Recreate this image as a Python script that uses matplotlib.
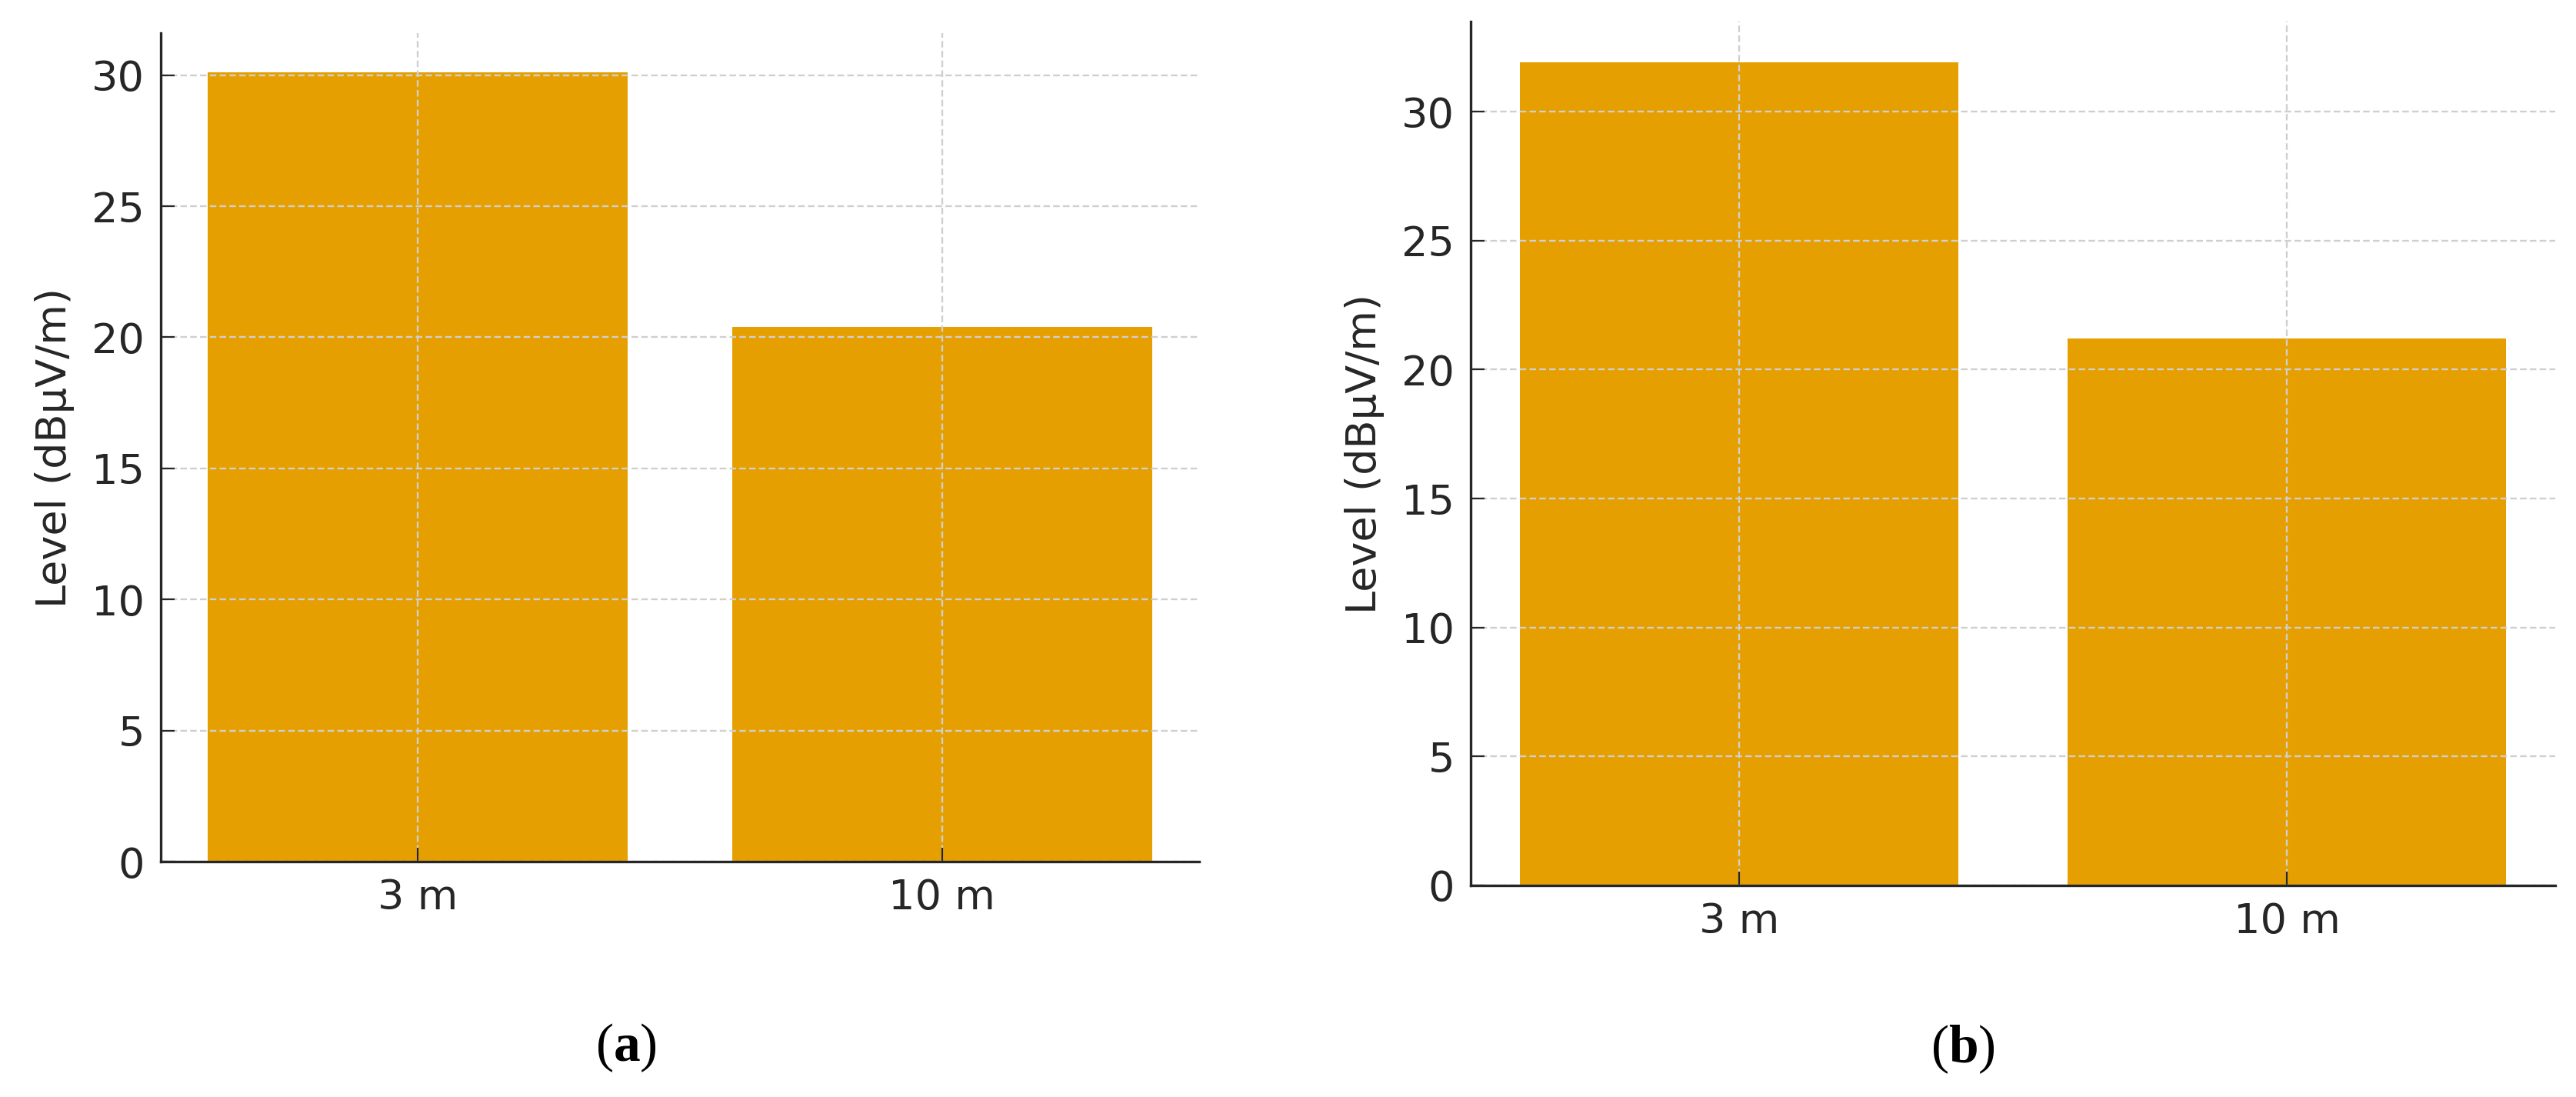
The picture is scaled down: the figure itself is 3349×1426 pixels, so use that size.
import matplotlib
matplotlib.use("Agg")
import matplotlib.pyplot as plt
from matplotlib.ticker import MultipleLocator

# measured emission level at each test distance
distances = ["3 m", "10 m"]
level_a = [30.1, 20.4]
level_b = [31.9, 21.2]
panel_labels = ["a", "b"]

BAR_COLOR = "#E69F00"
TEXT_COLOR = "#262626"
W, H = 3349, 1426

plt.rcParams["font.family"] = ["DejaVu Sans"]
plt.rcParams["mathtext.fontset"] = "custom"
plt.rcParams["mathtext.rm"] = "Liberation Serif"
plt.rcParams["mathtext.bf"] = "Liberation Serif:bold"


def _axes_rect(left, right, top, bottom):
    return [left / W, 1 - bottom / H, (right - left) / W, (bottom - top) / H]


def _draw_panel(ax, values):
    ax.bar(distances, values, width=0.8, color=BAR_COLOR)
    ax.yaxis.set_major_locator(MultipleLocator(5))
    ax.grid(True, color="#cfcfcf", linewidth=1.7, linestyle=(0, (3.6, 1.8)))
    for side in ("top", "right"):
        ax.spines[side].set_visible(False)
    for side in ("left", "bottom"):
        ax.spines[side].set_linewidth(2.4)
        ax.spines[side].set_color(TEXT_COLOR)
    ax.tick_params(direction="in", length=13, width=1.6, color=TEXT_COLOR,
                   labelsize=39, labelcolor=TEXT_COLOR, pad=15)
    ax.set_ylabel("Level (dBµV/m)", fontsize=39, color=TEXT_COLOR, labelpad=16)


fig = plt.figure(figsize=(W / 100, H / 100), dpi=100)
ax_a = fig.add_axes(_axes_rect(209, 1559, 43, 1120))
ax_b = fig.add_axes(_axes_rect(1912, 3322, 28, 1151))
_draw_panel(ax_a, level_a)
_draw_panel(ax_b, level_b)

for (cx, cy), name in zip([(814, 1362), (2552, 1364)], panel_labels):
    fig.text(cx / W, 1 - cy / H, "($\\mathbf{%s}$)" % name, family="Liberation Serif",
             fontsize=50, ha="center", va="center", color="black")

fig.savefig("out.png", dpi=100)
plt.close(fig)
